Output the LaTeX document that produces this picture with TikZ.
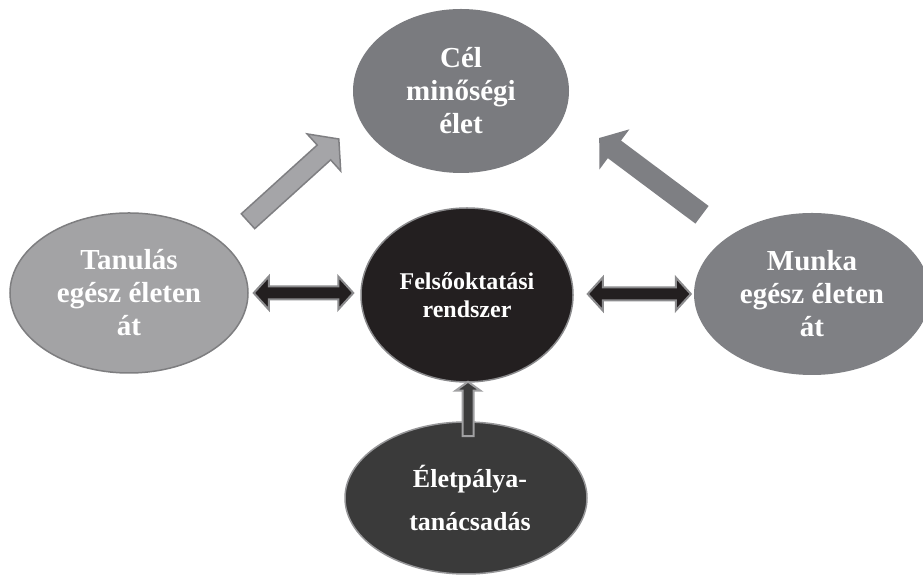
\documentclass[tikz,border=0pt]{standalone}
\usepackage{fontspec}
\setmainfont{Liberation Serif}
\usetikzlibrary{calc,shapes.geometric}
\definecolor{topc}{RGB}{122,123,127}
\definecolor{leftc}{RGB}{163,163,165}
\definecolor{leftb}{RGB}{126,126,128}
\definecolor{midc}{RGB}{35,31,32}
\definecolor{midb}{RGB}{138,138,140}
\definecolor{rightc}{RGB}{127,128,132}
\definecolor{botc}{RGB}{58,58,58}
\definecolor{botb}{RGB}{150,150,152}
\definecolor{aonec}{RGB}{165,165,168}
\definecolor{aoneb}{RGB}{127,127,130}
\definecolor{atwoc}{RGB}{126,127,131}
\definecolor{dblb}{RGB}{140,140,142}
\definecolor{upc}{RGB}{60,60,60}
\definecolor{upb}{RGB}{160,160,162}
% single block arrow: #1 style, #2 start, #3 end, #4 shaft half width, #5 head half width, #6 head length
\newcommand\blkarrow[6]{%
  \path[#1] let \p1=(#2), \p2=(#3), \n1={atan2(\y2-\y1,\x2-\x1)}, \n2={veclen(\x2-\x1,\y2-\y1)} in
    ($(\p1)+(\n1+90:#4)$) -- ($(\p1)+(\n1:\n2-#6)+(\n1+90:#4)$) -- ($(\p1)+(\n1:\n2-#6)+(\n1+90:#5)$)
    -- (\p2) -- ($(\p1)+(\n1:\n2-#6)+(\n1-90:#5)$) -- ($(\p1)+(\n1:\n2-#6)+(\n1-90:#4)$)
    -- ($(\p1)+(\n1-90:#4)$) -- cycle;}
% double block arrow
\newcommand\dblarrow[6]{%
  \path[#1] let \p1=(#2), \p2=(#3), \n1={atan2(\y2-\y1,\x2-\x1)}, \n2={veclen(\x2-\x1,\y2-\y1)} in
    (\p1) -- ($(\p1)+(\n1:#6)+(\n1+90:#5)$) -- ($(\p1)+(\n1:#6)+(\n1+90:#4)$)
    -- ($(\p1)+(\n1:\n2-#6)+(\n1+90:#4)$) -- ($(\p1)+(\n1:\n2-#6)+(\n1+90:#5)$)
    -- (\p2) -- ($(\p1)+(\n1:\n2-#6)+(\n1-90:#5)$) -- ($(\p1)+(\n1:\n2-#6)+(\n1-90:#4)$)
    -- ($(\p1)+(\n1:#6)+(\n1-90:#4)$) -- ($(\p1)+(\n1:#6)+(\n1-90:#5)$) -- cycle;}
\begin{document}
\begin{tikzpicture}[x=1pt,y=1pt,
  bubble/.style={ellipse, inner sep=0pt, text=white, align=center},
  bigtext/.style={font=\bfseries\fontsize{29pt}{33pt}\selectfont},
  midtext/.style={font=\bfseries\fontsize{24pt}{28pt}\selectfont},
  bottext/.style={font=\bfseries\fontsize{26pt}{43pt}\selectfont},
  dblstyle/.style={fill=midc, draw=dblb, line width=2pt, line join=miter},
  upstyle/.style={fill=upc, draw=upb, line width=2pt, line join=miter},
  onestyle/.style={fill=aonec, draw=aoneb, line width=1.5pt, line join=miter},
  twostyle/.style={fill=atwoc}]
\useasboundingbox (0,0) rectangle (923,577);
\clip (0,0) rectangle (923,577);
\fill[white] (0,0) rectangle (923,577);

\node[bubble, bigtext, fill=topc, minimum width=216pt, minimum height=164pt] (goal) at (461,486) {Cél\\minőségi\\élet};
\node[bubble, bigtext, fill=leftc, draw=leftb, line width=1.5pt, minimum width=238pt, minimum height=160pt] (learn) at (129,284) {Tanulás\\egész életen\\át};
\node[bubble, midtext, fill=midc, draw=midb, line width=1.5pt, minimum width=212pt, minimum height=174pt] (hes) at (467,282) {Felsőoktatási\\rendszer};
\node[bubble, bigtext, fill=rightc, minimum width=236pt, minimum height=162pt] (work) at (812,283) {Munka\\egész életen\\át};
\node[bubble, bottext, fill=botc, draw=botb, line width=1.5pt, minimum width=242pt, minimum height=152pt] (career) at (466,79) {\hspace*{8pt}Életpálya-\\\hspace*{8pt}tanácsadás};

% connector end points
\coordinate (a1s) at ($(learn.north)+(119,-9)$);
\coordinate (a1e) at ($(goal.west)+(-14,-48)$);
\coordinate (a2s) at ($(work.north)+(-110,-2)$);
\coordinate (a2e) at ($(goal.east)+(30,-47)$);
\coordinate (d1s) at ($(learn.east)+(5,0)$);
\coordinate (d1e) at ($(hes.west |- learn.east)+(-7,0)$);
\coordinate (d2s) at ($(hes.east |- work.west)+(14,0)$);
\coordinate (d2e) at ($(work.west)+(-3,0)$);
\coordinate (ups) at ($(career.north)+(2,-15)$);
\coordinate (upe) at ($(hes.south)+(1,1)$);

\blkarrow{onestyle}{a1s}{a1e}{10}{25}{20}
\blkarrow{twostyle}{a2s}{a2e}{11}{25}{19}
\dblarrow{dblstyle}{d1s}{d1e}{6.5}{16.5}{15}
\dblarrow{dblstyle}{d2s}{d2e}{6.5}{16.5}{15}
\blkarrow{upstyle}{ups}{upe}{5.5}{12.5}{9}
\end{tikzpicture}
\end{document}
